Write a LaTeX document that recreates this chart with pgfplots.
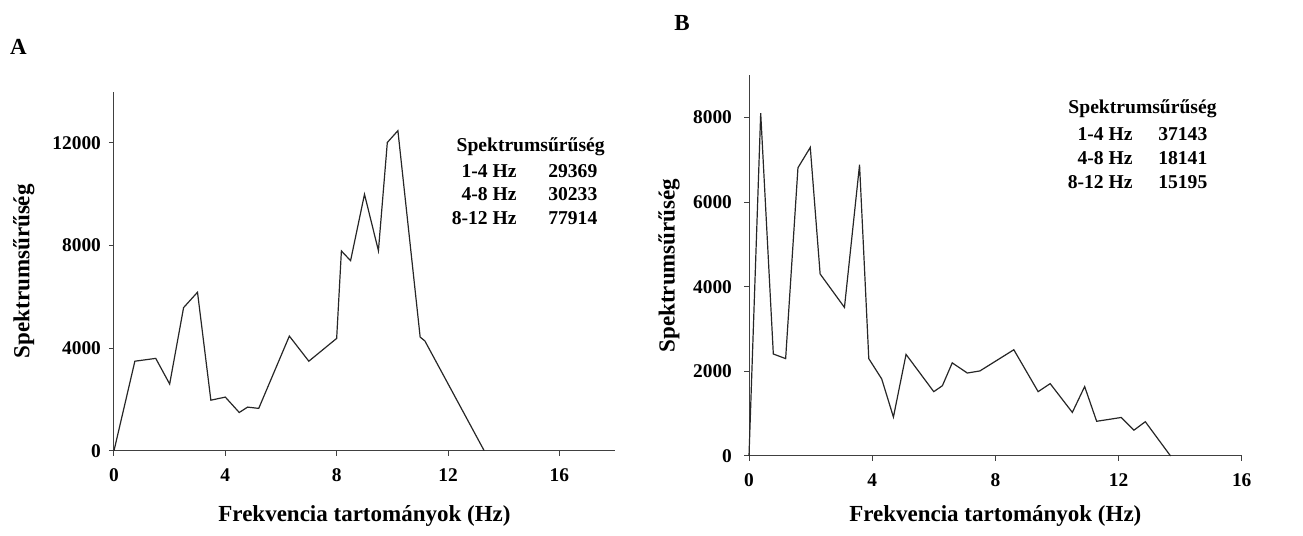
\documentclass[border=0pt]{standalone}
\usepackage{fontspec}
\setmainfont{Liberation Serif}
\usepackage{pgfplots}
\pgfplotsset{compat=1.18}
\tikzset{legtxt/.style={font=\bfseries\fontsize{9.8}{11}\selectfont, inner sep=0pt}}
\begin{document}
\begin{tikzpicture}
\useasboundingbox (0,0) rectangle (651.5pt,268pt);
\pgfplotsset{
  myax/.style={
    scale only axis,
    axis lines=left,
    axis line style={-, draw=black!75, line width=0.5pt},
    every outer x axis line/.append style={-},
    every outer y axis line/.append style={-},
    tick align=outside,
    tick pos=left,
    major tick length=2.5pt,
    tick style={draw=black!75, line width=0.5pt},
    clip=false,
    scaled y ticks=false,
    /pgf/number format/assume math mode=true,
    /pgf/number format/1000 sep={},
    ticklabel style={font=\bfseries\fontsize{9.7}{11}\selectfont},
    xticklabel style={yshift=-3pt},
    label style={font=\bfseries\fontsize{11.5}{13}\selectfont},
  },
}
% Panel A
\begin{axis}[myax,
  at={(57pt,42.65pt)}, anchor=south west,
  width=250.5pt, height=179.5pt,
  xmin=0, xmax=18, ymin=0, ymax=14000,
  xtick={0,4,8,12,16}, ytick={0,4000,8000,12000},
  yticklabel style={xshift=-0.5pt},
  xlabel={Frekvencia tartományok (Hz)},
  ylabel={Spektrumsűrűség},
  xlabel style={at={(axis description cs:0.5,0)}, anchor=base, yshift=-35.6pt},
  ylabel style={at={(axis description cs:-0.18,0.5)}, anchor=center},
]
\addplot[black!85, line width=0.6pt] coordinates {
(0,0) (0.75,3490) (1.5,3600) (2.0,2600) (2.5,5580) (3.0,6180) (3.48,1970)
(4.0,2090) (4.5,1490) (4.8,1700) (5.2,1650) (6.3,4470) (7.0,3490) (8.0,4380)
(8.17,7790) (8.5,7410) (9.0,10000) (9.5,7800) (9.82,12020) (10.2,12480)
(11.0,4430) (11.17,4280) (13.3,0)
};
\node[legtxt, anchor=base] at (axis cs:14.97,11673) {Spektrumsűrűség};
\node[legtxt, anchor=base east] at (axis cs:14.48,10661) {1-4 Hz};
\node[legtxt, anchor=base west] at (axis cs:15.59,10661) {29369};
\node[legtxt, anchor=base east] at (axis cs:14.48,9746) {4-8 Hz};
\node[legtxt, anchor=base west] at (axis cs:15.59,9746) {30233};
\node[legtxt, anchor=base east] at (axis cs:14.48,8830) {8-12 Hz};
\node[legtxt, anchor=base west] at (axis cs:15.59,8830) {77914};
\end{axis}
% Panel B
\begin{axis}[myax,
  at={(374.5pt,40pt)}, anchor=south west,
  width=246.35pt, height=190.5pt,
  xmin=0, xmax=16, ymin=0, ymax=9000,
  xtick={0,4,8,12,16}, ytick={0,2000,4000,6000,8000},
  yticklabel style={xshift=-2.5pt},
  xlabel={Frekvencia tartományok (Hz)},
  ylabel={Spektrumsűrűség},
  xlabel style={at={(axis description cs:0.5,0)}, anchor=base, yshift=-33pt},
  ylabel style={at={(axis description cs:-0.1624,0.5)}, anchor=center},
]
\addplot[black!85, line width=0.6pt] coordinates {
(0,0) (0.38,8100) (0.79,2410) (1.19,2300) (1.59,6810) (1.99,7290) (2.31,4300)
(3.1,3510) (3.59,6880) (3.89,2300) (4.31,1820) (4.69,920) (5.1,2400) (6.0,1520)
(6.28,1660) (6.6,2200) (7.09,1960) (7.5,2010) (8.6,2510) (9.39,1520) (9.78,1710)
(10.5,1030) (10.9,1640) (11.29,820) (12.09,910) (12.5,610) (12.87,810) (13.69,0)
};
\node[legtxt, anchor=base] at (axis cs:12.78,8095) {Spektrumsűrűség};
\node[legtxt, anchor=base east] at (axis cs:12.47,7458) {1-4 Hz};
\node[legtxt, anchor=base west] at (axis cs:13.28,7458) {37143};
\node[legtxt, anchor=base east] at (axis cs:12.47,6891) {4-8 Hz};
\node[legtxt, anchor=base west] at (axis cs:13.28,6891) {18141};
\node[legtxt, anchor=base east] at (axis cs:12.47,6325) {8-12 Hz};
\node[legtxt, anchor=base west] at (axis cs:13.28,6325) {15195};
\end{axis}
\node[font=\bfseries\fontsize{11.5}{13}\selectfont, inner sep=0pt] at (9.25pt,244.75pt) {A};
\node[font=\bfseries\fontsize{11.5}{13}\selectfont, inner sep=0pt] at (341pt,256.5pt) {B};
\end{tikzpicture}
\end{document}
